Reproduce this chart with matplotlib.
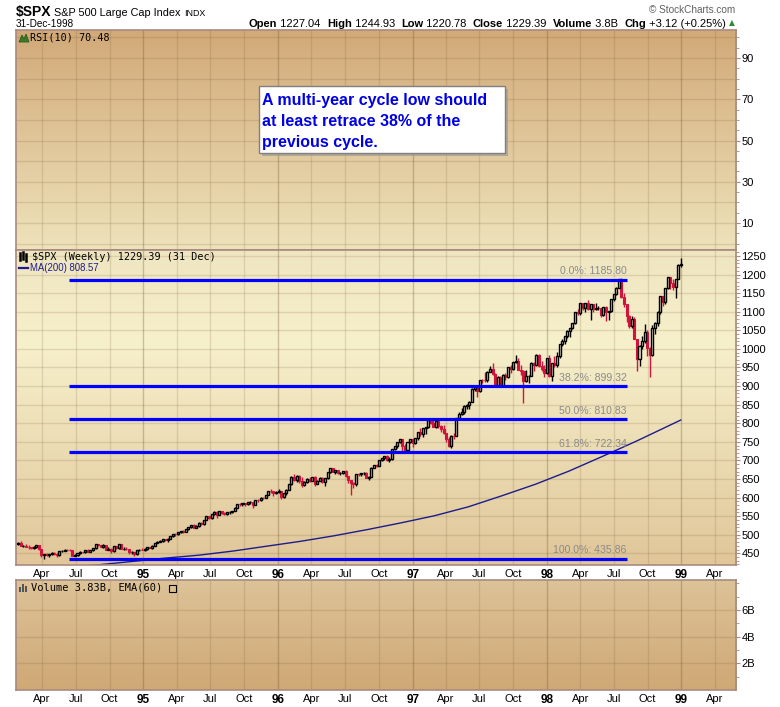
import matplotlib
matplotlib.use('Agg')
import matplotlib.pyplot as plt
import matplotlib.dates as mdates
from matplotlib.patches import Rectangle, Polygon
from matplotlib.lines import Line2D
import numpy as np
import pandas as pd

plt.rcParams['font.family'] = ['Liberation Sans', 'DejaVu Sans']

# ---- weekly $SPX candles, week of 24-Jan-1994 .. week of 28-Dec-1998 ----
closes = [
    # 1994
    478.70, 469.81, 470.18, 467.69, 467.01, 464.74, 466.44, 471.06, 460.58, 445.77,
    447.10, 446.18, 447.63, 450.91, 447.82, 444.14, 454.92, 457.33, 460.13, 458.67,
    458.45, 442.80, 446.20, 449.55, 454.16, 453.10, 458.26, 454.24, 458.88, 463.68,
    473.80, 470.99, 468.18, 471.19, 459.67, 462.71, 455.10, 469.10, 464.89, 473.77,
    462.28, 462.35, 461.47, 452.29, 453.30, 446.96, 458.80, 459.61, 459.27,
    # 1995
    460.68, 465.97, 464.78, 470.39, 478.65, 481.46, 481.97, 488.11, 485.42, 489.57,
    495.52, 500.97, 500.71, 506.42, 509.23, 508.49, 514.71, 520.12, 525.55, 519.19,
    523.65, 532.51, 527.94, 539.83, 549.71, 544.75, 556.37, 559.89, 553.62, 562.93,
    558.94, 555.11, 559.97, 560.10, 563.84, 572.68, 583.35, 581.73, 584.41, 582.49,
    587.46, 587.46, 579.70, 593.26, 592.72, 600.07, 599.97, 606.98, 617.48, 616.92,
    611.95, 615.93,
    # 1996
    616.71, 601.81, 611.43, 621.62, 635.84, 656.37, 647.98, 659.08, 644.37, 633.50,
    641.43, 650.62, 645.50, 655.86, 636.71, 645.07, 653.46, 641.63, 652.09, 668.27,
    678.51, 669.12, 673.31, 665.85, 666.84, 670.63, 657.44, 646.19, 638.73, 635.90,
    662.49, 662.10, 665.21, 667.03, 651.99, 655.68, 680.54, 687.03, 686.19, 701.46,
    705.27, 710.82, 700.92, 703.77, 730.82, 737.62, 748.73, 757.02, 739.60, 728.64,
    748.87, 756.79,
    # 1997
    748.03, 759.50, 776.17, 770.52, 786.16, 789.56, 808.48, 801.77, 790.82, 804.97,
    793.17, 784.10, 773.88, 757.90, 737.65, 766.34, 765.37, 812.97, 824.78, 829.75,
    847.03, 848.28, 858.01, 893.27, 898.70, 887.30, 916.92, 916.68, 915.30, 938.79,
    947.14, 933.54, 900.81, 923.54, 899.47, 929.05, 923.91, 950.51, 945.22, 965.03,
    966.98, 944.16, 941.64, 914.62, 927.51, 928.35, 963.09, 955.40, 983.79, 953.39,
    946.78, 936.46,
    # 1998
    975.04, 927.69, 961.51, 957.59, 980.28, 1012.46, 1020.09, 1034.21, 1049.34, 1055.69,
    1068.61, 1099.16, 1095.44, 1122.70, 1110.67, 1122.72, 1107.90, 1121.00, 1108.14, 1108.73,
    1110.47, 1090.82, 1113.86, 1098.84, 1100.65, 1133.20, 1146.42, 1164.33, 1186.75, 1140.80,
    1120.67, 1089.45, 1062.75, 1081.24, 1027.14, 973.89, 1009.06, 1020.09, 1044.75, 1002.60,
    984.59, 1056.42, 1070.67, 1098.67, 1141.01, 1125.72, 1163.55, 1192.33, 1176.74, 1166.46,
    1188.03, 1226.27, 1229.39,
]
highs = [
    479.9, 482.9, 472.5, 474.0, 471.0, 468.0, 468.5, 471.9, 471.0, 461.5,
    448.0, 452.0, 448.5, 452.6, 453.0, 449.5, 456.5, 457.8, 461.0, 461.5,
    462.5, 459.0, 448.0, 450.5, 455.5, 454.5, 458.8, 462.0, 460.0, 464.5,
    474.7, 476.0, 473.0, 474.0, 471.5, 466.5, 463.5, 470.0, 470.5, 474.5,
    474.0, 466.0, 467.5, 462.5, 455.0, 454.5, 459.5, 462.0, 465.0,
    463.5, 466.5, 468.0, 471.0, 479.0, 482.0, 485.5, 489.5, 488.5, 490.0,
    496.0, 501.5, 503.5, 507.0, 510.5, 512.0, 515.5, 521.0, 526.5, 528.0,
    525.0, 533.5, 534.5, 540.0, 550.5, 551.0, 557.0, 562.5, 563.0, 565.0,
    563.5, 561.5, 560.5, 563.0, 564.5, 573.5, 583.5, 586.0, 586.5, 585.0,
    589.0, 590.5, 588.0, 594.0, 595.5, 601.0, 601.5, 608.0, 618.5, 622.0,
    617.0, 617.5,
    623.0, 618.0, 612.5, 622.0, 637.0, 657.0, 664.0, 662.0, 660.0, 656.0,
    645.0, 652.0, 656.0, 656.5, 658.0, 646.0, 654.0, 656.0, 653.0, 669.5,
    680.0, 679.5, 674.0, 674.5, 668.5, 671.5, 673.5, 658.0, 648.5, 640.5,
    663.0, 667.0, 666.5, 669.5, 668.0, 657.0, 681.0, 688.0, 690.0, 702.0,
    706.0, 711.0, 714.0, 708.0, 731.0, 739.0, 749.5, 758.0, 757.0, 744.0,
    749.5, 758.0,
    758.0, 760.0, 777.0, 788.0, 787.0, 790.5, 810.0, 812.0, 812.5, 806.0,
    814.0, 795.0, 795.5, 775.0, 764.0, 767.0, 773.0, 813.5, 831.0, 841.0,
    848.0, 851.0, 858.5, 893.5, 899.0, 898.5, 917.5, 920.0, 939.0, 940.0,
    955.0, 961.0, 935.0, 927.0, 928.0, 933.0, 935.0, 952.0, 956.0, 966.0,
    983.1, 975.0, 956.0, 942.0, 942.0, 931.0, 964.0, 964.0, 986.0, 986.0,
    967.0, 956.0,
    975.5, 982.5, 962.5, 980.0, 992.7, 1013.0, 1026.0, 1035.0, 1050.0, 1057.0,
    1070.0, 1100.0, 1106.0, 1124.0, 1122.0, 1124.0, 1131.0, 1122.0, 1122.0, 1124.0,
    1115.0, 1111.0, 1114.0, 1116.0, 1101.0, 1134.0, 1147.0, 1166.0, 1187.0, 1190.6,
    1150.0, 1121.0, 1090.0, 1088.0, 1085.0, 1027.0, 1010.0, 1034.0, 1066.0, 1050.0,
    1005.0, 1063.0, 1072.0, 1103.0, 1142.0, 1142.0, 1164.0, 1193.0, 1192.0, 1188.0,
    1189.0, 1228.0, 1244.93,
]
lows = [
    471.5, 469.8, 467.0, 466.0, 462.0, 461.5, 461.0, 465.0, 460.0, 438.9,
    435.86, 442.0, 439.5, 446.0, 445.5, 441.0, 443.5, 452.5, 455.5, 455.5,
    455.0, 442.0, 441.5, 443.5, 448.5, 450.5, 450.0, 452.5, 453.0, 456.5,
    462.0, 469.5, 466.0, 465.5, 459.0, 458.5, 449.5, 454.5, 460.5, 461.5,
    461.0, 459.5, 459.0, 449.0, 447.5, 442.5, 446.0, 456.5, 458.0,
    457.0, 458.5, 463.5, 461.0, 468.5, 476.5, 480.0, 480.5, 482.0, 481.0,
    488.5, 494.0, 497.5, 500.0, 505.5, 503.5, 507.5, 513.0, 518.0, 518.5,
    518.0, 522.0, 526.5, 527.0, 539.0, 542.5, 543.5, 553.5, 546.0, 552.5,
    556.0, 553.0, 552.0, 556.5, 558.0, 563.0, 572.0, 578.0, 578.5, 578.0,
    579.0, 582.5, 572.5, 579.0, 588.5, 592.0, 596.5, 599.5, 606.5, 612.0,
    605.0, 609.0,
    612.5, 597.3, 598.5, 608.0, 620.5, 635.0, 645.0, 643.0, 640.0, 627.5,
    632.0, 640.0, 642.0, 644.5, 631.5, 636.0, 644.5, 638.0, 630.0, 651.0,
    666.0, 668.0, 664.0, 664.5, 660.5, 664.0, 656.5, 638.0, 605.9, 624.5,
    630.0, 657.5, 657.0, 661.5, 651.5, 646.0, 654.0, 679.0, 681.5, 685.0,
    697.0, 702.0, 699.5, 695.0, 702.0, 728.0, 734.0, 746.0, 723.5, 723.0,
    725.5, 746.5,
    737.0, 744.0, 756.0, 766.0, 763.5, 771.5, 786.0, 798.0, 789.5, 787.5,
    788.0, 777.5, 772.0, 750.0, 737.0, 733.5, 758.0, 765.0, 808.0, 823.0,
    826.0, 838.0, 838.5, 857.0, 887.0, 870.5, 885.0, 907.0, 910.0, 911.0,
    937.0, 931.0, 900.0, 899.5, 898.0, 897.0, 916.0, 922.0, 935.0, 944.0,
    962.0, 942.0, 930.0, 855.27, 912.0, 908.0, 928.0, 941.0, 954.0, 950.0,
    940.0, 924.0,
    932.5, 924.0, 912.8, 950.0, 950.0, 975.0, 1008.0, 1014.0, 1030.0, 1032.0,
    1053.0, 1068.0, 1092.0, 1091.0, 1104.0, 1098.0, 1104.0, 1077.0, 1100.0, 1104.0,
    1104.0, 1085.0, 1089.0, 1074.5, 1077.0, 1098.0, 1130.0, 1145.0, 1164.0, 1137.0,
    1114.0, 1072.0, 1057.0, 1055.0, 1026.0, 939.98, 954.0, 1000.0, 1016.0, 980.0,
    923.32, 980.0, 1040.0, 1061.0, 1093.0, 1115.0, 1121.0, 1160.0, 1162.0, 1158.0,
    1136.5, 1188.0, 1220.78,
]
first_open = 474.72
last_open = 1227.04

# 200-week moving average
ma_dates = ['1994-01-26', '1994-06-01', '1994-09-01', '1994-12-01', '1995-03-01',
            '1995-06-01', '1995-09-01', '1995-12-01', '1996-03-01', '1996-06-01',
            '1996-09-01', '1996-12-01', '1997-03-01', '1997-06-01', '1997-09-01',
            '1997-12-01', '1998-03-01', '1998-06-01', '1998-09-01', '1998-12-30']
ma_values = [402, 412, 419, 428, 437, 445, 456, 469, 482, 497,
             514, 532, 551, 575, 605, 636, 671, 711, 752, 808.57]

# fibonacci retracement of the 1994-1998 cycle
fib_names = ['0.0%', '38.2%', '50.0%', '61.8%', '100.0%']
fib_levels = [1185.80, 899.32, 810.83, 722.34, 435.86]
fib_start, fib_end = '1994-06-13', '1998-08-05'

W, H = 780, 707
fig = plt.figure(figsize=(W / 100, H / 100), dpi=100)
fig.patch.set_facecolor('white')


def rect(l, t, r, b):
    return [l / W, 1 - b / H, (r - l) / W, (b - t) / H]


def px(x, y):
    return (x / W, 1 - y / H)


ax_rsi = fig.add_axes(rect(16, 30, 736, 250))
ax_px = fig.add_axes(rect(16, 250, 736, 565))
ax_vol = fig.add_axes(rect(16, 580, 736, 690))

xmin = mdates.date2num(pd.Timestamp('1994-01-20'))
xmax = mdates.date2num(pd.Timestamp('1999-05-29'))
qticks = pd.date_range('1994-04-01', '1999-04-01', freq='QS')
qnums = mdates.date2num(qticks)
qlabels = [d.strftime('%y') if d.month == 1 else d.strftime('%b') for d in qticks]

border = '#a88a80'


def gradient(ax, stops):
    pos = [s[0] for s in stops]
    cols = np.array([matplotlib.colors.to_rgb(s[1]) for s in stops])
    t = np.linspace(0, 1, 200)
    img = np.stack([np.interp(t, pos, cols[:, k]) for k in range(3)], axis=1)
    ax.imshow(img[:, None, :], extent=[0, 1, 0, 1], transform=ax.transAxes,
              aspect='auto', zorder=0, interpolation='bilinear', origin='upper')


def style(ax, ylim, hlines):
    ax.set_xlim(xmin, xmax)
    ax.set_ylim(*ylim)
    for q, d in zip(qnums, qticks):
        yr = d.month == 1
        ax.axvline(q, color=(0.45, 0.33, 0.18), alpha=0.32 if yr else 0.17,
                   lw=1.0, zorder=1)
    for v in hlines:
        ax.axhline(v, color=(0.45, 0.33, 0.18), alpha=0.17, lw=1.0, zorder=1)
    for s in ax.spines.values():
        s.set_color(border)
        s.set_linewidth(1.2)
    ax.yaxis.tick_right()
    ax.tick_params(axis='y', which='both', direction='out', colors=border,
                   labelcolor='black', labelsize=8, pad=1)
    ax.tick_params(axis='y', which='major', length=3)
    ax.tick_params(axis='y', which='minor', length=2)
    ax.tick_params(axis='x', length=0, labelsize=8, pad=3)


# ---------------- RSI panel (empty) ----------------
gradient(ax_rsi, [(0, '#d2a978'), (1, '#eee3bb')])
style(ax_rsi, (-3.1, 103.6), range(0, 101, 10))
ax_rsi.set_yticks([10, 30, 50, 70, 90])
ax_rsi.set_yticks(np.arange(0, 101, 5), minor=True)
ax_rsi.set_xticks([])

# ---------------- price panel ----------------
gradient(ax_px, [(0, '#efe6c1'), (0.3, '#f6f0cb'), (1, '#e0c699')])
style(ax_px, (418.5, 1266.1), range(450, 1251, 50))
ax_px.set_yticks(range(450, 1251, 50))
ax_px.set_yticks(range(420, 1266, 10), minor=True)
ax_px.set_xticks(qnums)
ax_px.set_xticklabels(qlabels)

x = mdates.date2num(pd.date_range('1994-01-26', periods=len(closes), freq='7D'))
c = np.array(closes)
o = np.array([first_open] + closes[:-1])
o[-1] = last_open
hi = np.array(highs)
lo = np.array(lows)
up = c >= o
blo = np.minimum(o, c)
bhi = np.maximum(o, c)
red = '#d2143c'
bw = 5.5
ax_px.vlines(x[~up], lo[~up], hi[~up], color=red, lw=1.0, zorder=3)
ax_px.bar(x[~up], (bhi - blo)[~up], bottom=blo[~up], width=bw, facecolor=red,
          edgecolor=red, lw=0.8, zorder=3)
ax_px.vlines(x[up], bhi[up], hi[up], color='black', lw=1.0, zorder=4)
ax_px.vlines(x[up], lo[up], blo[up], color='black', lw=1.0, zorder=4)
ax_px.bar(x[up], (bhi - blo)[up], bottom=blo[up], width=bw, facecolor='none',
          edgecolor='black', lw=1.0, zorder=4)

ax_px.plot(mdates.date2num(pd.to_datetime(ma_dates)), ma_values,
           color='#1c1c8c', lw=1.0, zorder=2)

fx0 = mdates.date2num(pd.Timestamp(fib_start))
fx1 = mdates.date2num(pd.Timestamp(fib_end))
for name, lev in zip(fib_names, fib_levels):
    ax_px.hlines(lev, fx0, fx1, color='#0000ff', lw=2.3, zorder=5)
    ax_px.annotate(f'{name}: {lev:.2f}', xy=(fx1, lev), xytext=(0, 2.5),
                   textcoords='offset points', ha='right', va='bottom',
                   color='#8a8a8a', fontsize=7.6, zorder=6)

# ---------------- volume panel (empty) ----------------
gradient(ax_vol, [(0, '#ddc398'), (1, '#cfa875')])
style(ax_vol, (0, 8.25), [2, 4, 6])
ax_vol.set_yticks([2, 4, 6])
ax_vol.set_yticklabels(['2B', '4B', '6B'])
ax_vol.set_yticks(range(1, 9), minor=True)
ax_vol.set_xticks(qnums)
ax_vol.set_xticklabels(qlabels)

for ax in (ax_px, ax_vol):
    for lbl in ax.get_xticklabels():
        lbl.set_family(['Liberation Sans Narrow', 'Liberation Sans'])
        if lbl.get_text().isdigit():
            lbl.set_fontweight('bold')
            lbl.set_fontsize(8.5)

# ---------------- header ----------------
fig.text(*px(16, 16), '$SPX', fontsize=10, fontweight='bold', va='baseline')
fig.text(*px(54, 16), 'S&P 500 Large Cap Index', fontsize=7.8, va='baseline')
fig.text(*px(184, 16), 'INDX', fontsize=6.4, va='baseline')
fig.text(*px(16, 27), '31-Dec-1998', fontsize=7.2, va='baseline')
fig.text(*px(735, 10), '\u00a9 StockCharts.com', fontsize=7.2, va='center',
         ha='right', color='#606060')

parts = [('Open', True), (' 1227.04  ', False), ('High', True), (' 1244.93  ', False),
         ('Low', True), (' 1220.78  ', False), ('Close', True), (' 1229.39  ', False),
         ('Volume', True), (' 3.8B  ', False), ('Chg', True), (' +3.12 (+0.25%)', False)]
renderer = fig.canvas.get_renderer()
texts = []
for s, b in parts:
    t = fig.text(0, 1 - 27 / H, s, fontsize=8, fontweight='bold' if b else 'normal',
                 va='baseline')
    texts.append(t)
widths = [t.get_window_extent(renderer=renderer).width for t in texts]
xcur = 726 - sum(widths)
for t, w in zip(texts, widths):
    t.set_x(xcur / W)
    xcur += w
fig.text(*px(729, 23), '\u25b2', fontsize=5.5, color='#2e8b2e', va='center',
         family='DejaVu Sans')

# ---------------- legends ----------------
mono = 'DejaVu Sans Mono'
fig.add_artist(Polygon([px(19, 42), px(22, 35), px(24, 39), px(26, 34), px(29, 42)],
                       closed=True, transform=fig.transFigure, facecolor='#3c7a28',
                       edgecolor='#2a5a1a', lw=0.6))
fig.text(*px(30, 38), 'RSI(10) 70.48', fontsize=7.3, family=mono, va='center')

for xi, (a, b) in zip([20, 23, 26], [(253, 260), (252, 259), (254, 261)]):
    fig.add_artist(Line2D([xi / W, xi / W], [1 - a / H, 1 - b / H],
                          transform=fig.transFigure, color='black', lw=1.8))
fig.text(*px(32, 257), '$SPX (Weekly) 1229.39 (31 Dec)', fontsize=7.3, family=mono,
         va='center')
fig.add_artist(Line2D([19 / W, 28 / W], [1 - 268 / H, 1 - 268 / H],
                      transform=fig.transFigure, color='#1c1c8c', lw=1.6))
fig.text(*px(30, 268), 'MA(200) 808.57', fontsize=6.9, color='#1c1c8c', va='center')

for xi, top in zip([20, 23, 26], [587, 584, 586]):
    fig.add_artist(Rectangle(px(xi - 1, 592), 2 / W, (592 - top) / H,
                             transform=fig.transFigure, facecolor='#555555', lw=0))
fig.text(*px(31, 588), 'Volume 3.83B, EMA(60)', fontsize=7.5, family=mono, va='center')
fig.add_artist(Rectangle(px(169, 592), 7 / W, 7 / H, transform=fig.transFigure,
                         facecolor='none', edgecolor='black', lw=0.8))

# ---------------- annotation box ----------------
fig.add_artist(Rectangle(px(262, 156), 246 / W, 67 / H, transform=fig.transFigure,
                         facecolor='#9a9a9a', lw=0, alpha=0.7))
fig.add_artist(Rectangle(px(259, 153), 246 / W, 67 / H, transform=fig.transFigure,
                         facecolor='white', edgecolor='#808080', lw=1.0))
for yy, line in zip([100, 121, 142], ['A multi-year cycle low should',
                                      'at least retrace 38% of the',
                                      'previous cycle.']):
    fig.text(*px(262, yy), line, fontsize=11.5, fontweight='bold', color='#0000e6',
             va='center')

fig.savefig('out.png', dpi=100)
